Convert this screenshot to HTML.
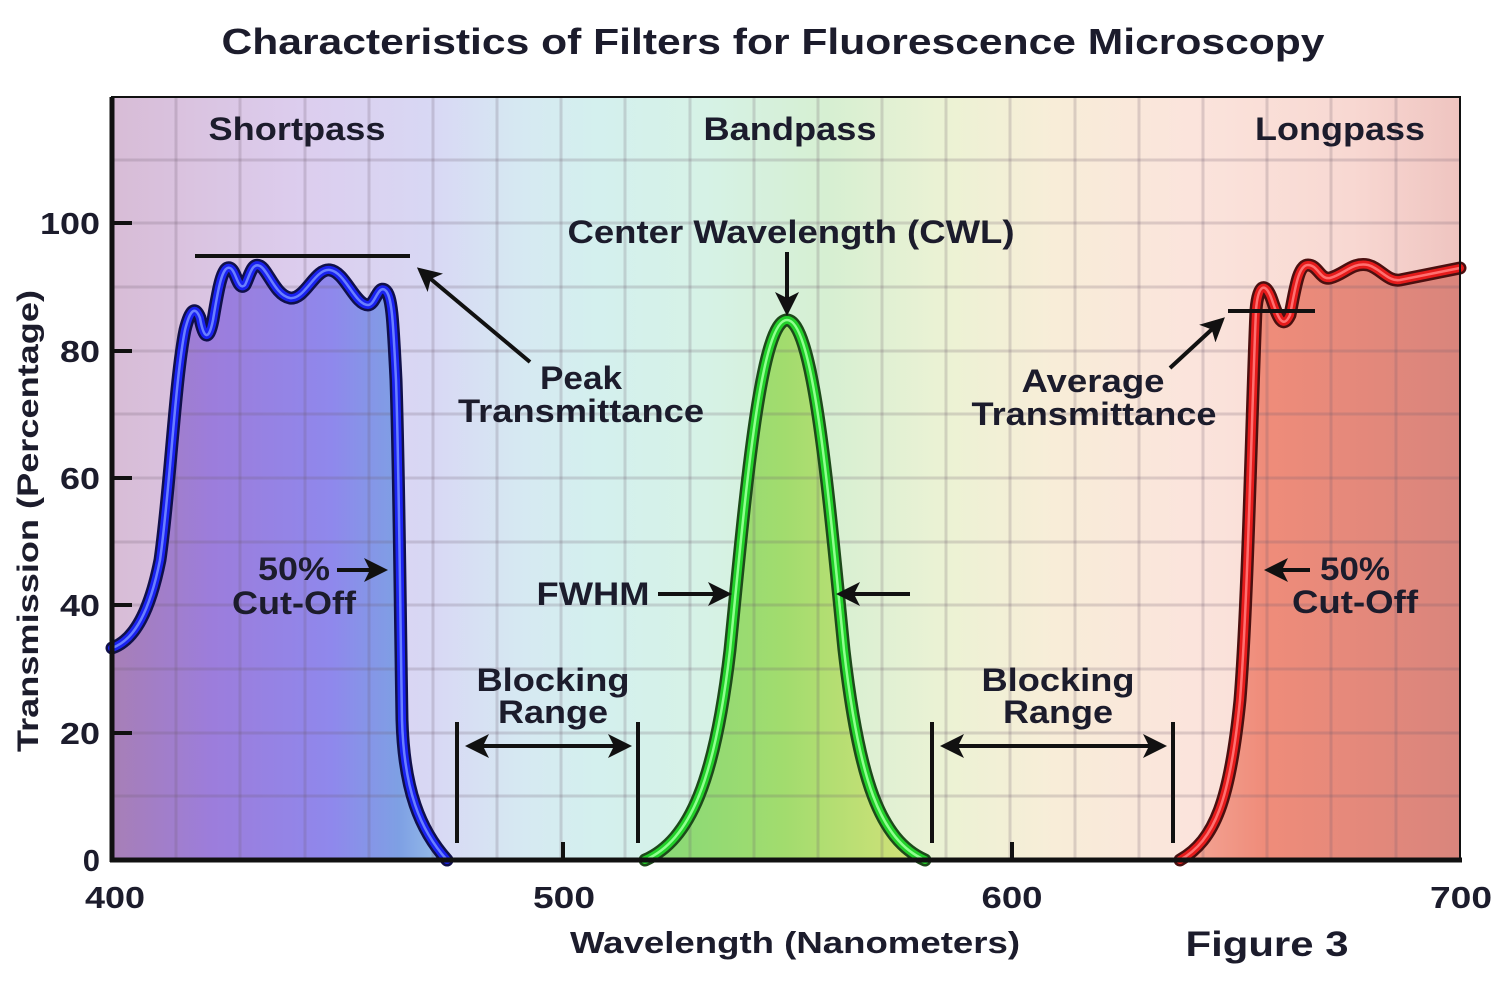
<!DOCTYPE html>
<html><head><meta charset="utf-8"><style>
html,body{margin:0;padding:0;background:#fff;}
svg{display:block;}
text{font-family:"Liberation Sans",Arial,sans-serif;font-weight:bold;fill:#1c1c2c;}
</style></head><body>
<svg width="1506" height="984" viewBox="0 0 1506 984" xmlns="http://www.w3.org/2000/svg">
<defs>
<linearGradient id="bg" x1="112" y1="0" x2="1460" y2="0" gradientUnits="userSpaceOnUse">
<stop offset="0" stop-color="#d8bcd6"/>
<stop offset="0.14" stop-color="#dccdee"/>
<stop offset="0.24" stop-color="#d8d8f4"/>
<stop offset="0.3" stop-color="#d6e8f2"/>
<stop offset="0.36" stop-color="#d4f0ee"/>
<stop offset="0.44" stop-color="#d6f2e6"/>
<stop offset="0.53" stop-color="#d6efd2"/>
<stop offset="0.62" stop-color="#ecf2d4"/>
<stop offset="0.7" stop-color="#f8edd8"/>
<stop offset="0.8" stop-color="#fbe4dc"/>
<stop offset="0.92" stop-color="#f8d8d2"/>
<stop offset="1" stop-color="#efc4c0"/>
</linearGradient>
<linearGradient id="bf" x1="112" y1="0" x2="450" y2="0" gradientUnits="userSpaceOnUse">
<stop offset="0" stop-color="#a77fb6"/>
<stop offset="0.3" stop-color="#9c7ddc"/>
<stop offset="0.65" stop-color="#8f88ec"/>
<stop offset="0.85" stop-color="#7ea0e4"/>
<stop offset="1" stop-color="#9cc4ea"/>
</linearGradient>
<linearGradient id="gf" x1="645" y1="0" x2="925" y2="0" gradientUnits="userSpaceOnUse">
<stop offset="0" stop-color="#86d878"/>
<stop offset="0.5" stop-color="#a2dc6e"/>
<stop offset="1" stop-color="#d6e27a"/>
</linearGradient>
<linearGradient id="rf" x1="1180" y1="0" x2="1460" y2="0" gradientUnits="userSpaceOnUse">
<stop offset="0" stop-color="#f4a898"/>
<stop offset="0.3" stop-color="#ef8c7a"/>
<stop offset="1" stop-color="#d9857c"/>
</linearGradient>
<marker id="ah" markerWidth="6" markerHeight="6" refX="5" refY="3" orient="auto" markerUnits="strokeWidth">
<path d="M0,0 L6,3 L0,6 L1.5,3 z" fill="#111"/>
</marker>
<marker id="as" markerWidth="6" markerHeight="6" refX="1" refY="3" orient="auto" markerUnits="strokeWidth">
<path d="M6,0 L0,3 L6,6 L4.5,3 z" fill="#111"/>
</marker>
<path id="bc" d="M112,648 C135,640 150,610 160,560 C170,490 175,380 185,330 C190,310 195,305 200,318 C203,335 208,345 213,320 C218,290 222,265 230,268 C236,270 238,292 245,285 C250,275 252,262 260,266 C268,270 275,295 290,298 C305,300 315,268 330,270 C345,272 355,305 368,305 C375,305 378,285 385,290 C392,295 393,320 396,380 C399,470 400,600 402,720 C404,790 420,830 447,860"/>
<path id="gc" d="M645,860 C690,840 715,780 730,650 C745,500 760,320 787,320 C814,320 829,500 844,650 C859,780 880,840 925,860"/>
<path id="rc" d="M1180,860 C1215,840 1230,800 1240,700 C1248,600 1252,400 1256,310 C1258,285 1265,280 1272,300 C1278,318 1283,330 1290,315 C1295,290 1298,265 1308,265 C1318,265 1320,280 1330,278 C1345,274 1352,262 1368,265 C1380,268 1388,282 1400,280 C1420,276 1440,272 1460,268"/>
</defs>

<text x="773" y="54" font-size="36" text-anchor="middle" textLength="1103" lengthAdjust="spacingAndGlyphs">Characteristics of Filters for Fluorescence Microscopy</text>

<rect x="112" y="97" width="1348" height="763" fill="url(#bg)"/>

<!-- fills -->
<path d="M112,648 C135,640 150,610 160,560 C170,490 175,380 185,330 C190,310 195,305 200,318 C203,335 208,345 213,320 C218,290 222,265 230,268 C236,270 238,292 245,285 C250,275 252,262 260,266 C268,270 275,295 290,298 C305,300 315,268 330,270 C345,272 355,305 368,305 C375,305 378,285 385,290 C392,295 393,320 396,380 C399,470 400,600 402,720 C404,790 420,830 447,860 L112,860 Z" fill="url(#bf)"/>
<path d="M645,860 C690,840 715,780 730,650 C745,500 760,320 787,320 C814,320 829,500 844,650 C859,780 880,840 925,860 Z" fill="url(#gf)"/>
<path d="M1180,860 C1215,840 1230,800 1240,700 C1248,600 1252,400 1256,310 C1258,285 1265,280 1272,300 C1278,318 1283,330 1290,315 C1295,290 1298,265 1308,265 C1318,265 1320,280 1330,278 C1345,274 1352,262 1368,265 C1380,268 1388,282 1400,280 C1420,276 1440,272 1460,268 L1460,860 Z" fill="url(#rf)"/>

<!-- grid -->
<g stroke="rgba(110,90,110,0.22)" stroke-width="3">
<line x1="176" y1="97" x2="176" y2="860"/><line x1="240" y1="97" x2="240" y2="860"/>
<line x1="305" y1="97" x2="305" y2="860"/><line x1="369" y1="97" x2="369" y2="860"/>
<line x1="433" y1="97" x2="433" y2="860"/><line x1="497" y1="97" x2="497" y2="860"/>
<line x1="561" y1="97" x2="561" y2="860"/><line x1="625" y1="97" x2="625" y2="860"/>
<line x1="690" y1="97" x2="690" y2="860"/><line x1="754" y1="97" x2="754" y2="860"/>
<line x1="818" y1="97" x2="818" y2="860"/><line x1="882" y1="97" x2="882" y2="860"/>
<line x1="946" y1="97" x2="946" y2="860"/><line x1="1010" y1="97" x2="1010" y2="860"/>
<line x1="1075" y1="97" x2="1075" y2="860"/><line x1="1139" y1="97" x2="1139" y2="860"/>
<line x1="1203" y1="97" x2="1203" y2="860"/><line x1="1267" y1="97" x2="1267" y2="860"/>
<line x1="1331" y1="97" x2="1331" y2="860"/><line x1="1396" y1="97" x2="1396" y2="860"/>
<line x1="112" y1="160" x2="1460" y2="160"/><line x1="112" y1="223" x2="1460" y2="223"/>
<line x1="112" y1="287" x2="1460" y2="287"/><line x1="112" y1="351" x2="1460" y2="351"/>
<line x1="112" y1="414" x2="1460" y2="414"/><line x1="112" y1="478" x2="1460" y2="478"/>
<line x1="112" y1="542" x2="1460" y2="542"/><line x1="112" y1="605" x2="1460" y2="605"/>
<line x1="112" y1="669" x2="1460" y2="669"/><line x1="112" y1="733" x2="1460" y2="733"/>
<line x1="112" y1="796" x2="1460" y2="796"/>
</g>

<!-- curves -->
<g fill="none" stroke-linejoin="round" stroke-linecap="round">
<use href="#bc" stroke="#10104a" stroke-width="13"/>
<use href="#bc" stroke="#1a22f0" stroke-width="8"/>
<use href="#bc" stroke="#6a80ff" stroke-width="2.5"/>
<use href="#gc" stroke="#1d4a1a" stroke-width="13"/>
<use href="#gc" stroke="#22d02a" stroke-width="8"/>
<use href="#gc" stroke="#90ff90" stroke-width="2.5"/>
<use href="#rc" stroke="#4a1010" stroke-width="13"/>
<use href="#rc" stroke="#e51b1b" stroke-width="8"/>
<use href="#rc" stroke="#ff7070" stroke-width="2.5"/>
</g>

<!-- axes -->
<rect x="112" y="97" width="1348" height="763" fill="none" stroke="#111" stroke-width="2"/>
<line x1="112" y1="97" x2="112" y2="862" stroke="#111" stroke-width="5"/>
<line x1="110" y1="860" x2="1462" y2="860" stroke="#111" stroke-width="5"/>
<g stroke="#111" stroke-width="4">
<line x1="112" y1="223" x2="132" y2="223"/><line x1="112" y1="351" x2="132" y2="351"/>
<line x1="112" y1="478" x2="132" y2="478"/><line x1="112" y1="605" x2="132" y2="605"/>
<line x1="112" y1="733" x2="132" y2="733"/>
<line x1="563" y1="860" x2="563" y2="842"/><line x1="1012" y1="860" x2="1012" y2="842"/>
</g>
<g font-size="31" text-anchor="end">
<text x="100" y="234" textLength="60" lengthAdjust="spacingAndGlyphs">100</text>
<text x="100" y="362" textLength="40" lengthAdjust="spacingAndGlyphs">80</text>
<text x="100" y="489" textLength="40" lengthAdjust="spacingAndGlyphs">60</text>
<text x="100" y="616" textLength="40" lengthAdjust="spacingAndGlyphs">40</text>
<text x="100" y="744" textLength="40" lengthAdjust="spacingAndGlyphs">20</text>
<text x="100" y="871">0</text>
</g>
<g font-size="31" text-anchor="middle">
<text x="115" y="908" textLength="60" lengthAdjust="spacingAndGlyphs">400</text>
<text x="564" y="908" textLength="62" lengthAdjust="spacingAndGlyphs">500</text>
<text x="1012" y="908" textLength="61" lengthAdjust="spacingAndGlyphs">600</text>
<text x="1461" y="908" textLength="62" lengthAdjust="spacingAndGlyphs">700</text>
</g>
<text x="795" y="953" font-size="31" text-anchor="middle" textLength="450" lengthAdjust="spacingAndGlyphs">Wavelength (Nanometers)</text>
<text x="1267" y="956" font-size="35" text-anchor="middle" textLength="163" lengthAdjust="spacingAndGlyphs">Figure 3</text>
<text transform="translate(38,521) rotate(-90)" font-size="30" text-anchor="middle" textLength="462" lengthAdjust="spacingAndGlyphs">Transmission (Percentage)</text>

<!-- labels -->
<g font-size="32" text-anchor="middle" lengthAdjust="spacingAndGlyphs">
<text x="297" y="140" textLength="177" lengthAdjust="spacingAndGlyphs">Shortpass</text>
<text x="790" y="140" textLength="173" lengthAdjust="spacingAndGlyphs">Bandpass</text>
<text x="1340" y="140" textLength="170" lengthAdjust="spacingAndGlyphs">Longpass</text>
<text x="791" y="243" textLength="447" lengthAdjust="spacingAndGlyphs">Center Wavelength (CWL)</text>
<text x="581" y="389" textLength="82" lengthAdjust="spacingAndGlyphs">Peak</text>
<text x="581" y="422" textLength="246" lengthAdjust="spacingAndGlyphs">Transmittance</text>
<text x="1093" y="392" textLength="143" lengthAdjust="spacingAndGlyphs">Average</text>
<text x="1094" y="425" textLength="245" lengthAdjust="spacingAndGlyphs">Transmittance</text>
<text x="294" y="580" textLength="72" lengthAdjust="spacingAndGlyphs">50%</text>
<text x="294" y="614" textLength="124" lengthAdjust="spacingAndGlyphs">Cut-Off</text>
<text x="1355" y="580" textLength="70" lengthAdjust="spacingAndGlyphs">50%</text>
<text x="1355" y="613" textLength="126" lengthAdjust="spacingAndGlyphs">Cut-Off</text>
<text x="593" y="605" textLength="113" lengthAdjust="spacingAndGlyphs">FWHM</text>
<text x="553" y="691" textLength="153" lengthAdjust="spacingAndGlyphs">Blocking</text>
<text x="553" y="723" textLength="110" lengthAdjust="spacingAndGlyphs">Range</text>
<text x="1058" y="691" textLength="153" lengthAdjust="spacingAndGlyphs">Blocking</text>
<text x="1058" y="723" textLength="110" lengthAdjust="spacingAndGlyphs">Range</text>
</g>

<!-- annotation lines -->
<g stroke="#111" stroke-width="4" fill="none">
<line x1="195" y1="256" x2="410" y2="256"/>
<line x1="530" y1="362" x2="420" y2="270" marker-end="url(#ah)"/>
<line x1="787" y1="252" x2="787" y2="312" marker-end="url(#ah)"/>
<line x1="1228" y1="311" x2="1315" y2="311"/>
<line x1="1170" y1="368" x2="1222" y2="320" marker-end="url(#ah)"/>
<line x1="337" y1="570" x2="384" y2="570" marker-end="url(#ah)"/>
<line x1="1310" y1="570" x2="1268" y2="570" marker-end="url(#ah)"/>
<line x1="658" y1="594" x2="728" y2="594" marker-end="url(#ah)"/>
<line x1="910" y1="594" x2="840" y2="594" marker-end="url(#ah)"/>
<line x1="457" y1="722" x2="457" y2="843"/>
<line x1="638" y1="722" x2="638" y2="843"/>
<line x1="469" y1="746" x2="628" y2="746" marker-start="url(#as)" marker-end="url(#ah)"/>
<line x1="932" y1="722" x2="932" y2="843"/>
<line x1="1173" y1="722" x2="1173" y2="843"/>
<line x1="944" y1="746" x2="1163" y2="746" marker-start="url(#as)" marker-end="url(#ah)"/>
</g>
</svg>
</body></html>
